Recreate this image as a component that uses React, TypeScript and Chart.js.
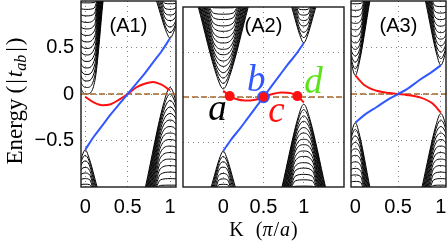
import React, { useEffect, useRef } from 'react';
import { Chart, registerables } from 'chart.js';
Chart.register(...registerables);

// ---------- axes ----------
const X_TICKS = [0, 0.5, 1];
const Y_TICKS = [-0.5, 0, 0.5];
const Y_MIN = -1;
const Y_MAX = 1;
const A1_X = [-0.05, 1.07];
const A2_X = [-0.5, 1.5];
const A3_X = [-0.05, 1.06];

// ---------- edge states (K in pi/a, Energy in |t_ab|) ----------
const A1_K = [0, 0.1, 0.2, 0.3, 0.4, 0.5, 0.6, 0.7, 0.8, 0.9, 1.0];
const A1_BLUE = [-0.6, -0.46, -0.34, -0.22, -0.11, 0, 0.11, 0.22, 0.34, 0.46, 0.6];
const A1_RED = [-0.03, -0.09, -0.12, -0.11, -0.06, 0, 0.07, 0.11, 0.13, 0.1, 0.04];

const A2_BLUE_K = [0, 0.1, 0.2, 0.3, 0.4, 0.5, 0.6, 0.7, 0.8, 0.9, 1.0];
const A2_BLUE = [-0.6, -0.47, -0.36, -0.24, -0.12, 0, 0.12, 0.24, 0.36, 0.47, 0.6];
const A2_RED_K = [0, 0.08, 0.15, 0.27, 0.4, 0.5, 0.6, 0.72, 0.85, 0.92, 1.0];
const A2_RED = [0.07, 0.01, -0.02, -0.04, -0.03, 0, 0.03, 0.05, 0.04, 0.01, -0.06];
const A2_DOT_K = [0.08, 0.5, 0.92];
const A2_DOT_E = [0.01, 0, 0.01];

const A3_K = [0, 0.1, 0.25, 0.4, 0.5, 0.6, 0.75, 0.9, 1.0];
const A3_BLUE = [-0.31, -0.23, -0.14, -0.05, 0, 0.05, 0.15, 0.24, 0.31];
const A3_RED = [0.2, 0.1, 0.035, 0.01, 0, -0.01, -0.035, -0.1, -0.2];

const A1_B1 = [0.0, 0.07, 0.14, 0.21, 0.28, 0.35, 0.42, 0.49, 0.56, 0.63, 0.7, 0.77, 0.84, 0.91, 0.98];
const A1_B2 = [-0.6, -0.66, -0.72, -0.79, -0.85, -0.91, -0.97];
const A1_B3 = [0.6, 0.66, 0.72, 0.79, 0.85, 0.91, 0.97];
const A1_B4 = [0.07, 0.0, -0.07, -0.14, -0.21, -0.28, -0.35, -0.42, -0.49, -0.56, -0.63, -0.7, -0.77, -0.84, -0.91, -0.98];

const A2_B1 = [0.09, 0.15, 0.21, 0.27, 0.34, 0.4, 0.47, 0.53, 0.6, 0.66, 0.73, 0.79, 0.86, 0.92, 0.99];
const A2_B2 = [-0.6, -0.66, -0.72, -0.78, -0.85, -0.91, -0.97];
const A2_B3 = [0.6, 0.66, 0.72, 0.79, 0.85, 0.91, 0.97];
const A2_B4 = [-0.08, -0.14, -0.21, -0.27, -0.34, -0.4, -0.47, -0.53, -0.6, -0.66, -0.73, -0.79, -0.86, -0.92, -0.99];

const A3_B1 = [0.2, 0.27, 0.34, 0.41, 0.48, 0.55, 0.62, 0.69, 0.76, 0.83, 0.9, 0.97];
const A3_B2 = [0.31, 0.38, 0.45, 0.52, 0.59, 0.66, 0.73, 0.8, 0.87, 0.94];
const A3_B3 = [-0.31, -0.38, -0.45, -0.52, -0.59, -0.66, -0.73, -0.8, -0.87, -0.94];
const A3_B4 = [-0.21, -0.28, -0.35, -0.42, -0.49, -0.56, -0.63, -0.7, -0.77, -0.84, -0.91, -0.98];

// cluster: valley K, direction, half-width (in K) at the frame for the lowest and highest sub-band
type Cluster = { k0: number; dir: number; wOut: number; wIn: number; rLo: number; rHi: number; ext: number[] };
const A1_CLUSTERS: Cluster[] = [
  { k0: 0.02, dir: 1, wOut: 0.19, wIn: 0.11, rLo: 0.5, rHi: 0.75, ext: A1_B1 },
  { k0: 0, dir: -1, wOut: 0.14, wIn: 0.07, rLo: 0.25, rHi: 0.75, ext: A1_B2 },
  { k0: 1, dir: 1, wOut: 0.16, wIn: 0.08, rLo: 0.25, rHi: 0.75, ext: A1_B3 },
  { k0: 1, dir: -1, wOut: 0.29, wIn: 0.15, rLo: 0.25, rHi: 0.75, ext: A1_B4 },
];
const A2_CLUSTERS: Cluster[] = [
  { k0: 0, dir: 1, wOut: 0.31, wIn: 0.16, rLo: 0.25, rHi: 0.75, ext: A2_B1 },
  { k0: 0, dir: -1, wOut: 0.15, wIn: 0.07, rLo: 0.25, rHi: 0.75, ext: A2_B2 },
  { k0: 1, dir: 1, wOut: 0.15, wIn: 0.07, rLo: 0.25, rHi: 0.75, ext: A2_B3 },
  { k0: 1, dir: -1, wOut: 0.27, wIn: 0.14, rLo: 0.25, rHi: 0.75, ext: A2_B4 },
];
const A3_CLUSTERS: Cluster[] = [
  { k0: 0, dir: 1, wOut: 0.17, wIn: 0.09, rLo: 0.25, rHi: 0.75, ext: A3_B1 },
  { k0: 1, dir: 1, wOut: 0.18, wIn: 0.09, rLo: 0.25, rHi: 0.75, ext: A3_B2 },
  { k0: 0, dir: -1, wOut: 0.17, wIn: 0.08, rLo: 0.25, rHi: 0.75, ext: A3_B3 },
  { k0: 1, dir: -1, wOut: 0.22, wIn: 0.11, rLo: 0.25, rHi: 0.75, ext: A3_B4 },
];

const BLUE = '#3157ff';
const RED = '#ff1010';
const ZERO_COLOR = '#a8672a';
const SANS = '"Liberation Sans", Arial, sans-serif';
const SERIF = '"Liberation Serif", "Times New Roman", serif';

function bandDatasets(clusters: Cluster[]) {
  const out: any[] = [];
  clusters.forEach((c) => {
    const e0 = c.ext[0];
    const ef = c.dir * 1.0;
    c.ext.forEach((en) => {
      const f = (en - e0) / (ef - e0);
      const t = c.wOut + (c.wIn - c.wOut) * f;
      const m = t * (c.rLo + (c.rHi - c.rLo) * f);
      const em = en + (ef - en) * 0.15;
      out.push({
        data: [
          { x: c.k0 - t, y: ef },
          { x: c.k0 - m, y: em },
          { x: c.k0, y: en },
          { x: c.k0 + m, y: em },
          { x: c.k0 + t, y: ef },
        ],
        showLine: true,
        borderColor: '#000',
        borderWidth: 1,
        pointRadius: 0,
        cubicInterpolationMode: 'monotone',
        clip: 0,
      });
    });
  });
  return out;
}

function curve(ks: number[], es: number[], color: string, width: number) {
  return {
    data: ks.map((k, i) => ({ x: k, y: es[i] })),
    showLine: true,
    borderColor: color,
    borderWidth: width,
    pointRadius: 0,
    cubicInterpolationMode: 'monotone',
    clip: 0,
  };
}

function zeroLine(range: number[]) {
  return {
    data: [{ x: range[0], y: 0 }, { x: range[1], y: 0 }],
    showLine: true,
    borderColor: ZERO_COLOR,
    borderWidth: 1.5,
    borderDash: [6, 3],
    pointRadius: 0,
    clip: 0,
  };
}

const fmt = (v: number) => (v < 0 ? '\u2212' + String(-v) : String(v));

type Piece = { t: string; font: string; gap?: number; dy?: number };

function drawRun(ctx: CanvasRenderingContext2D, pieces: Piece[], x0: number, y0: number, center: boolean) {
  let total = 0;
  pieces.forEach((p) => {
    ctx.font = p.font;
    total += ctx.measureText(p.t).width + (p.gap || 0);
  });
  let x = center ? x0 - total / 2 : x0;
  ctx.textAlign = 'left';
  ctx.textBaseline = 'alphabetic';
  pieces.forEach((p) => {
    ctx.font = p.font;
    ctx.fillText(p.t, x, y0 + (p.dy || 0));
    x += ctx.measureText(p.t).width + (p.gap || 0);
  });
}

function zeroPad(s: any) {
  s.paddingTop = 0;
  s.paddingBottom = 0;
  s.paddingLeft = 0;
  s.paddingRight = 0;
}

function makeConfig(opts: {
  range: number[];
  datasets: any[];
  yLabels: boolean;
  yWidth: number;
  padLeft: number;
  padRight: number;
  label: string;
  extraDraw?: (chart: any) => void;
}) {
  const grid = { color: '#808080', lineWidth: 1, drawTicks: false };
  const border = { display: false, dash: [1, 4] };
  return {
    type: 'scatter',
    data: { datasets: opts.datasets },
    options: {
      animation: false,
      responsive: false,
      maintainAspectRatio: false,
      devicePixelRatio: 1,
      events: [],
      layout: { padding: { left: opts.padLeft, right: opts.padRight, top: 1, bottom: 0 } },
      plugins: { legend: { display: false }, tooltip: { enabled: false } },
      scales: {
        x: {
          type: 'linear',
          min: opts.range[0],
          max: opts.range[1],
          afterBuildTicks: (s: any) => {
            s.ticks = X_TICKS.map((v) => ({ value: v }));
          },
          afterFit: (s: any) => {
            s.height = 58;
            zeroPad(s);
          },
          ticks: {
            color: '#000',
            font: { family: SANS, size: 20 },
            padding: 8,
            maxRotation: 0,
            autoSkip: false,
            callback: (v: any) => fmt(Number(v)),
          },
          grid,
          border,
        },
        y: {
          type: 'linear',
          min: Y_MIN,
          max: Y_MAX,
          afterBuildTicks: (s: any) => {
            s.ticks = Y_TICKS.map((v) => ({ value: v }));
          },
          afterFit: (s: any) => {
            s.width = opts.yWidth;
            zeroPad(s);
          },
          ticks: {
            display: opts.yLabels,
            color: '#000',
            font: { family: SANS, size: 20 },
            padding: 7,
            callback: (v: any) => fmt(Number(v)),
          },
          grid,
          border,
        },
      },
    },
    plugins: [
      {
        id: 'frameAndText',
        afterDraw(chart: any) {
          const { ctx, chartArea: a } = chart;
          ctx.save();
          ctx.strokeStyle = '#1a1a1a';
          ctx.lineWidth = 1.4;
          ctx.strokeRect(a.left, a.top, a.right - a.left, a.bottom - a.top);
          ctx.font = '20px ' + SANS;
          ctx.fillStyle = '#000';
          ctx.textAlign = 'center';
          ctx.textBaseline = 'alphabetic';
          ctx.fillText(opts.label, (a.left + a.right) / 2, 32);
          ctx.restore();
          if (opts.extraDraw) {
            ctx.save();
            opts.extraDraw(chart);
            ctx.restore();
          }
        },
      },
    ],
  } as any;
}

function drawYTitle(chart: any) {
  const ctx: CanvasRenderingContext2D = chart.ctx;
  const rm = '23px ' + SERIF;
  const it = 'italic 23px ' + SERIF;
  const sub = 'italic 16px ' + SERIF;
  ctx.fillStyle = '#000';
  ctx.translate(22, 101);
  ctx.rotate(-Math.PI / 2);
  drawRun(
    ctx,
    [
      { t: 'Energy', font: rm, gap: 5 },
      { t: '(', font: rm, gap: 2 },
      { t: '|', font: rm, gap: 2 },
      { t: 't', font: it },
      { t: 'ab', font: sub, dy: 4, gap: 3 },
      { t: '|', font: rm, gap: 2 },
      { t: ')', font: rm },
    ],
    0,
    0,
    true
  );
}

function drawA2Extras(chart: any) {
  const ctx: CanvasRenderingContext2D = chart.ctx;
  const xs = chart.scales.x;
  const ys = chart.scales.y;
  const a = chart.chartArea;
  ctx.fillStyle = '#000';
  const rm = '20px ' + SERIF;
  const it = 'italic 20px ' + SERIF;
  drawRun(
    ctx,
    [
      { t: 'K', font: rm, gap: 12 },
      { t: '(', font: rm, gap: 0 },
      { t: '\u03c0', font: it, gap: 1 },
      { t: '/', font: rm, gap: 1 },
      { t: 'a', font: it, gap: 1 },
      { t: ')', font: rm },
    ],
    (a.left + a.right) / 2,
    236,
    true
  );
  const lab = (t: string, k: number, e: number, color: string) => {
    ctx.font = 'italic 37px ' + SERIF;
    ctx.fillStyle = color;
    ctx.textAlign = 'center';
    ctx.textBaseline = 'alphabetic';
    ctx.fillText(t, xs.getPixelForValue(k), ys.getPixelForValue(e));
  };
  lab('a', -0.07, -0.26, '#000');
  lab('b', 0.41, 0.065, BLUE);
  lab('c', 0.66, -0.28, RED);
  lab('d', 1.12, 0.04, '#5ce21a');
}

export default function App() {
  const r1 = useRef<HTMLCanvasElement>(null);
  const r2 = useRef<HTMLCanvasElement>(null);
  const r3 = useRef<HTMLCanvasElement>(null);

  useEffect(() => {
    document.body.style.margin = '0';
    const c1 = new Chart(
      r1.current as HTMLCanvasElement,
      makeConfig({
        range: A1_X,
        datasets: [
          curve(A1_K, A1_BLUE, BLUE, 2),
          curve(A1_K, A1_RED, RED, 2),
          zeroLine(A1_X),
          ...bandDatasets(A1_CLUSTERS),
        ],
        yLabels: true,
        yWidth: 81,
        padLeft: 0,
        padRight: 2,
        label: '(A1)',
        extraDraw: drawYTitle,
      })
    );
    const c2 = new Chart(
      r2.current as HTMLCanvasElement,
      makeConfig({
        range: A2_X,
        datasets: [
          {
            data: A2_DOT_K.map((k, i) => ({ x: k, y: A2_DOT_E[i] })),
            showLine: false,
            pointRadius: [5, 5.5, 5],
            pointBackgroundColor: RED,
            pointBorderColor: [RED, BLUE, RED],
            pointBorderWidth: [0, 1.5, 0],
          },
          curve(A2_BLUE_K, A2_BLUE, BLUE, 2),
          curve(A2_RED_K, A2_RED, RED, 2),
          zeroLine(A2_X),
          ...bandDatasets(A2_CLUSTERS),
        ],
        yLabels: false,
        yWidth: 2,
        padLeft: 0,
        padRight: 2,
        label: '(A2)',
        extraDraw: drawA2Extras,
      })
    );
    const c3 = new Chart(
      r3.current as HTMLCanvasElement,
      makeConfig({
        range: A3_X,
        datasets: [
          curve(A3_K, A3_BLUE, BLUE, 2),
          curve(A3_K, A3_RED, RED, 2),
          zeroLine(A3_X),
          ...bandDatasets(A3_CLUSTERS),
        ],
        yLabels: false,
        yWidth: 2,
        padLeft: 0,
        padRight: 1,
        label: '(A3)',
      })
    );
    return () => {
      c1.destroy();
      c2.destroy();
      c3.destroy();
    };
  }, []);

  const cs = (left: number, width: number): React.CSSProperties => ({
    position: 'absolute',
    left,
    top: 0,
    width,
    height: 245,
  });

  return (
    <div style={{ position: 'relative', width: 447, height: 245, background: '#fff', overflow: 'hidden' }}>
      <canvas ref={r1} width={178} height={245} style={cs(0, 178)} />
      <canvas ref={r2} width={175} height={245} style={cs(176, 175)} />
      <canvas ref={r3} width={98} height={245} style={cs(349, 98)} />
    </div>
  );
}
